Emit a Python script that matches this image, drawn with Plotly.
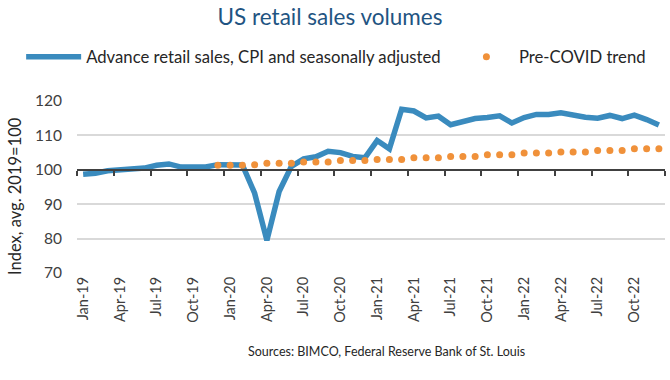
import plotly.graph_objects as go

# ---- data ----
month_abbr = ["Jan", "Feb", "Mar", "Apr", "May", "Jun", "Jul", "Aug", "Sep", "Oct", "Nov", "Dec"]
years = ["19", "20", "21", "22"]
months = [f"{m}-{y}" for y in years for m in month_abbr]

retail_sales = [
    98.7, 99.0, 99.7, 100.0, 100.2, 100.5, 101.3, 101.7, 100.8, 100.8, 100.8, 101.5,
    101.5, 101.4, 93.2, 79.5, 93.7, 101.0, 103.2, 103.8, 105.4, 105.0, 103.9, 103.5,
    108.5, 106.1, 117.6, 117.1, 115.1, 115.6, 113.1, 114.1, 114.9, 115.2, 115.7, 113.6,
    115.2, 116.1, 116.1, 116.6, 115.8, 115.3, 115.0, 115.8, 114.9, 115.9, 114.6, 113.0,
]

trend_months = months[11:]
pre_covid_trend = [
    101.3,
    101.3, 101.3, 101.5, 101.9, 101.9, 101.9, 102.3, 102.3, 102.3, 102.7, 102.7, 102.7,
    103.0, 103.0, 103.0, 103.5, 103.5, 103.5, 103.9, 103.9, 103.9, 104.4, 104.4, 104.4,
    104.9, 104.9, 104.9, 105.2, 105.2, 105.2, 105.6, 105.6, 105.6, 106.1, 106.1, 106.1,
]

y_min, y_max = 70, 120
tick_labels = months[::3]

BLUE = "#3A8BBE"
ORANGE = "#F0913A"
TEXT = "#404040"
FONT = "Lato"

fig = go.Figure()

fig.add_trace(go.Scatter(
    x=months, y=retail_sales, mode="lines",
    name="Advance retail sales, CPI and seasonally adjusted",
    line=dict(color=BLUE, width=5.5), legend="legend",
))
fig.add_trace(go.Scatter(
    x=trend_months, y=pre_covid_trend, mode="markers",
    name="Pre-COVID trend",
    marker=dict(color=ORANGE, size=7), legend="legend2",
))
# invisible helper trace so that the axis line at 100 (xaxis2) is drawn
fig.add_trace(go.Scatter(
    x=list(range(len(months))), y=retail_sales, xaxis="x2", mode="lines",
    line=dict(width=0), showlegend=False, hoverinfo="skip",
))

n = len(months)
legend_common = dict(orientation="h", xanchor="left", y=1.256, yanchor="middle",
                     font=dict(size=16.7, color="#262626"), itemwidth=55,
                     bgcolor="rgba(0,0,0,0)")
fig.update_layout(
    width=670, height=380,
    margin=dict(l=77, r=5, t=101, b=107, autoexpand=False),
    paper_bgcolor="white", plot_bgcolor="white",
    font=dict(family=FONT, color=TEXT),
    title=dict(text="US retail sales volumes", x=330 / 670, xref="container", xanchor="center",
               y=1 - 17 / 380, yanchor="middle",
               font=dict(family=FONT, size=22.5, color="#1F5482")),
    showlegend=True,
    legend=dict(x=-0.095, **legend_common),
    legend2=dict(x=0.641, **legend_common),
    xaxis=dict(type="category", categoryorder="array", categoryarray=months,
               range=[-0.5, n - 0.5], tickmode="array", tickvals=tick_labels,
               ticktext=tick_labels, tickangle=-90, showgrid=False, showline=False,
               ticks="", tickfont=dict(size=14.5, color=TEXT), zeroline=False,
               automargin=False),
    xaxis2=dict(overlaying="x", type="linear", range=[-0.5, n - 0.5],
                tickmode="array", tickvals=[i - 0.5 for i in range(0, n + 1, 3)],
                showticklabels=False, ticks="outside", ticklen=5, tickwidth=1.5,
                tickcolor=TEXT, showline=True, linecolor=TEXT, linewidth=1.5,
                showgrid=False, zeroline=False, anchor="free",
                position=(100 - y_min) / (y_max - y_min), side="bottom",
                automargin=False),
    yaxis=dict(range=[y_min, y_max], dtick=10, showgrid=True, gridcolor="#D9D9D9",
               gridwidth=1.5, zeroline=False, showline=False, ticks="",
               tickfont=dict(size=15.5, color=TEXT), ticklabelstandoff=14,
               automargin=False),
    annotations=[
        dict(text="Index, avg. 2019=100", textangle=-90,
             x=-62 / 588, xref="paper", xanchor="center",
             y=(273 - 196) / 172, yref="paper", yanchor="middle",
             showarrow=False, font=dict(size=16.5, color="#262626")),
        dict(text="Sources: BIMCO, Federal Reserve Bank of St. Louis",
             x=0.527, xref="paper", xanchor="center",
             y=-0.459, yref="paper", yanchor="middle",
             showarrow=False, font=dict(size=12.5, color="#262626")),
    ],
)

fig.write_html("out.html", config={"displayModeBar": False},
               post_script="document.body.style.margin='0';")
